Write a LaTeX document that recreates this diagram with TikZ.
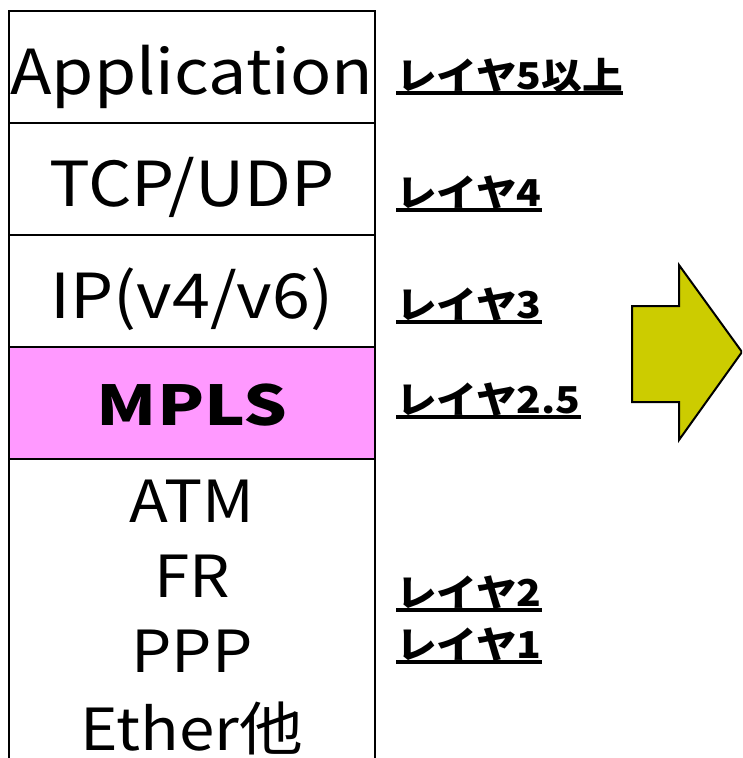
\documentclass[tikz,border=0pt]{standalone}
\usepackage{fontspec}
\setmainfont{Noto Sans CJK JP}[FakeStretch=1.1]
\newfontfamily\widefont{Noto Sans CJK JP}[FakeStretch=1.25]
\usetikzlibrary{positioning}
\definecolor{mplspink}{HTML}{FF99FF}
\definecolor{arrowolive}{HTML}{CCCC00}

\begin{document}
\begin{tikzpicture}[x=1pt, y=-1pt,
    layer/.style={draw, line width=2pt, minimum width=366pt, minimum height=112pt,
        inner sep=0pt, outer sep=0pt, text height=60pt, text depth=5pt,
        font=\fontsize{62}{70}\selectfont},
    lbl/.style={inner sep=0pt, outer sep=0pt, anchor=base west,
        font=\bfseries\fontsize{37}{40}\selectfont},
    uline/.style={line width=3.5pt}]

    %page frame
    \clip (0,0) rectangle (742,758);

    %define protocol stack
    \node[layer] (app) at (192,66.5) {Application};
    \node[layer, below=0pt of app] (tcp) {TCP/UDP};
    \node[layer, below=0pt of tcp] (ip) {IP(v4/v6)};
    \node[layer, below=0pt of ip, fill=mplspink, text height=50pt,
        font=\widefont\bfseries\fontsize{55}{60}\selectfont] (mpls) {MPLS};
    \node[layer, below=0pt of mpls, minimum height=317pt, text height=, text depth=,
        align=center, font=\fontsize{58}{75}\selectfont] (link)
        {ATM\\FR\\PPP\\[3pt]Ether他};

    %define the layer labels
    \foreach \n/\y/\t in {l5/89/レイヤ5以上, l4/206/レイヤ4, l3/318/レイヤ3,
                          l25/413/レイヤ2.5, l2/606/レイヤ2, l1/658/レイヤ1} {
        \node[lbl] (\n) at (396,\y) {\t};
        \draw[uline] ([yshift=-4pt]\n.base west) -- ([yshift=-4pt]\n.base east);
    }

    %big arrow
    \draw[line width=2pt, fill=arrowolive, line join=miter]
        (632,306) -- (679,306) -- (679,265) -- (742,352)
        -- (679,440) -- (679,402) -- (632,402) -- cycle;

\end{tikzpicture}
\end{document}
